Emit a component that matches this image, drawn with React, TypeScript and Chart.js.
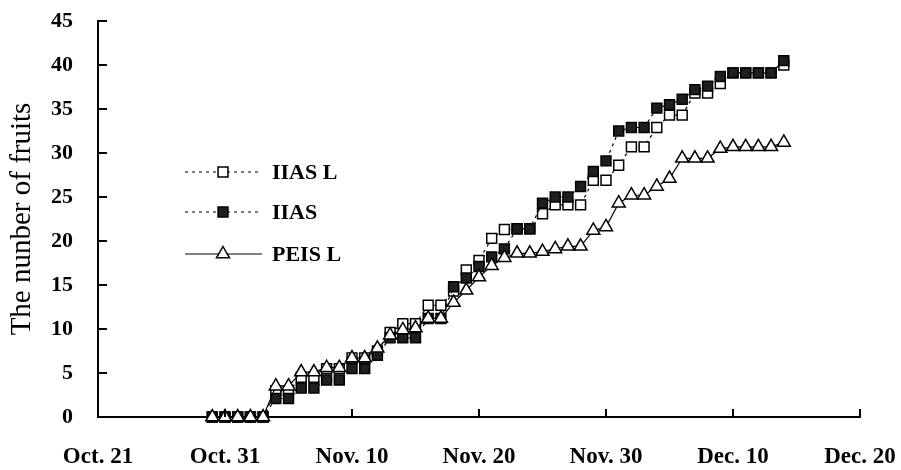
import React, { useEffect, useRef } from 'react';
import { Chart, registerables } from 'chart.js';

Chart.register(...registerables);

// Tick labels for the date axis (every 10 days starting Oct. 21)
const tickLabels = ['Oct. 21', 'Oct. 31', 'Nov. 10', 'Nov. 20', 'Nov. 30', 'Dec. 10', 'Dec. 20'];

// Days since Oct. 21 for each observation
const days = [
  9, 10, 11, 12, 13, 14, 15, 16, 17, 18, 19, 20, 21, 22, 23, 24, 25, 26, 27, 28, 29, 30, 31,
  32, 33, 34, 35, 36, 37, 38, 39, 40, 41, 42, 43, 44, 45, 46, 47, 48, 49, 50, 51, 52, 53, 54,
];

const iiasL = [
  0, 0, 0, 0, 0, 3.0, 3.0, 4.5, 4.5, 5.5, 5.5, 6.7, 6.7, 7.5, 9.6, 10.6, 10.6, 12.7, 12.7, 14.3,
  16.7, 17.8, 20.3, 21.3, 21.4, 21.4, 23.1, 24.1, 24.1, 24.1, 26.9, 26.9, 28.6, 30.7, 30.7, 32.9,
  34.3, 34.3, 36.8, 36.8, 37.9, 39.1, 39.1, 39.1, 39.1, 40.0,
];

const iias = [
  0, 0, 0, 0, 0, 2.1, 2.1, 3.3, 3.3, 4.2, 4.2, 5.5, 5.5, 7.0, 9.0, 9.0, 9.0, 11.2, 11.2, 14.8,
  15.8, 17.1, 18.2, 19.1, 21.4, 21.4, 24.3, 25.0, 25.0, 26.2, 27.9, 29.1, 32.5, 32.9, 32.9, 35.1,
  35.5, 36.1, 37.2, 37.6, 38.7, 39.1, 39.1, 39.1, 39.1, 40.5,
];

const peisL = [
  0, 0, 0, 0, 0, 3.5, 3.5, 5.1, 5.1, 5.6, 5.6, 6.7, 6.7, 7.8, 9.3, 9.9, 10.1, 11.2, 11.2, 13.0,
  14.4, 15.9, 17.2, 18.1, 18.6, 18.6, 18.8, 19.1, 19.4, 19.4, 21.2, 21.6, 24.3, 25.2, 25.2, 26.2,
  27.1, 29.4, 29.4, 29.4, 30.5, 30.7, 30.7, 30.7, 30.7, 31.2,
];

const seriesNames = ['IIAS L', 'IIAS', 'PEIS L'];

const FONT = "'Liberation Serif', 'Times New Roman', serif";

function toPoints(values: number[]) {
  return values.map((v, i) => ({ x: days[i], y: v }));
}

const innerTicks = {
  id: 'innerTicks',
  afterDraw(chart: any) {
    const ctx = chart.ctx;
    const { left, bottom } = chart.chartArea;
    const xs = chart.scales.x;
    const ys = chart.scales.y;
    ctx.save();
    ctx.strokeStyle = '#000';
    ctx.lineWidth = 2;
    ctx.beginPath();
    xs.ticks.forEach((t: any) => {
      if (t.value === xs.min) return;
      const px = Math.round(xs.getPixelForValue(t.value));
      ctx.moveTo(px, bottom);
      ctx.lineTo(px, bottom - 8);
    });
    ys.ticks.forEach((t: any) => {
      if (t.value === ys.min) return;
      const py = Math.round(ys.getPixelForValue(t.value));
      ctx.moveTo(left, py);
      ctx.lineTo(left + 9, py);
    });
    ctx.stroke();
    ctx.restore();
  },
};

const customLegend = {
  id: 'customLegend',
  afterDraw(chart: any) {
    const ctx = chart.ctx;
    const rows = [
      { ds: 2, y: 172 },
      { ds: 1, y: 212 },
      { ds: 0, y: 254 },
    ];
    ctx.save();
    rows.forEach((r) => {
      const ds = chart.data.datasets[r.ds];
      ctx.strokeStyle = '#000';
      ctx.lineWidth = 1.2;
      ctx.setLineDash(ds.borderDash || []);
      ctx.beginPath();
      ctx.moveTo(185, r.y);
      ctx.lineTo(262, r.y);
      ctx.stroke();
      ctx.setLineDash([]);
      ctx.fillStyle = ds.pointBackgroundColor;
      ctx.lineWidth = 1.5;
      ctx.beginPath();
      if (ds.pointStyle === 'triangle') {
        const rad = ds.pointRadius;
        const cx = 223;
        const cy = r.y;
        ctx.moveTo(cx, cy - rad);
        ctx.lineTo(cx + rad * 0.866, cy + rad * 0.5);
        ctx.lineTo(cx - rad * 0.866, cy + rad * 0.5);
        ctx.closePath();
      } else {
        const s = ds.pointRadius * Math.SQRT1_2;
        ctx.rect(223 - s, r.y - s, 2 * s, 2 * s);
      }
      ctx.fill();
      ctx.stroke();
      ctx.fillStyle = '#000';
      ctx.font = `bold 22px ${FONT}`;
      ctx.textBaseline = 'middle';
      ctx.textAlign = 'left';
      ctx.fillText(ds.label, 272, r.y + 1);
    });
    ctx.restore();
  },
};

export default function App() {
  const ref = useRef<HTMLCanvasElement | null>(null);

  useEffect(() => {
    document.body.style.margin = '0';
    const canvas = ref.current;
    if (!canvas) return;
    const chart = new Chart(canvas, {
      type: 'line',
      data: {
        datasets: [
          {
            label: seriesNames[2],
            data: toPoints(peisL),
            borderColor: '#000',
            borderWidth: 1.2,
            pointStyle: 'triangle',
            pointRadius: 7.5,
            pointBackgroundColor: '#fff',
            pointBorderColor: '#000',
            pointBorderWidth: 1.5,
            tension: 0,
            clip: false,
          } as any,
          {
            label: seriesNames[1],
            data: toPoints(iias),
            borderColor: '#000',
            borderWidth: 1.2,
            borderDash: [3, 4],
            pointStyle: 'rect',
            pointRadius: 7,
            pointBackgroundColor: '#1e1e1e',
            pointBorderColor: '#000',
            pointBorderWidth: 1.5,
            tension: 0,
            clip: false,
          } as any,
          {
            label: seriesNames[0],
            data: toPoints(iiasL),
            borderColor: '#000',
            borderWidth: 1.2,
            borderDash: [3, 4],
            pointStyle: 'rect',
            pointRadius: 7,
            pointBackgroundColor: '#fff',
            pointBorderColor: '#000',
            pointBorderWidth: 1.5,
            tension: 0,
            clip: false,
          } as any,
        ],
      },
      options: {
        animation: false,
        responsive: false,
        devicePixelRatio: 1,
        layout: { padding: { top: 21, right: 41, left: 0, bottom: 0 } },
        plugins: {
          legend: { display: false },
          tooltip: { enabled: false },
        },
        scales: {
          x: {
            type: 'linear',
            min: 0,
            max: 60,
            grid: { display: false, drawTicks: false },
            border: { display: true, color: '#000', width: 2 },
            ticks: {
              stepSize: 10,
              padding: 26,
              color: '#000',
              font: { family: FONT, size: 23, weight: 'bold' },
              maxRotation: 0,
              callback: (v: any) => tickLabels[Math.round(Number(v) / 10)] ?? '',
            },
            afterFit: (scale: any) => {
              scale.height = 53;
              scale.paddingLeft = 0;
              scale.paddingRight = 0;
            },
          },
          y: {
            min: 0,
            max: 45,
            grid: { display: false, drawTicks: false },
            border: { display: true, color: '#000', width: 2 },
            ticks: {
              stepSize: 5,
              padding: 25,
              color: '#000',
              font: { family: FONT, size: 22, weight: 'bold' },
            },
            title: {
              display: true,
              text: 'The nunber of fruits',
              color: '#000',
              font: { family: FONT, size: 29, weight: 'normal' },
              padding: { top: 5, bottom: 0 },
            },
            afterFit: (scale: any) => {
              scale.width = 98;
              scale.paddingTop = 0;
              scale.paddingBottom = 0;
            },
          },
        },
      } as any,
      plugins: [innerTicks, customLegend],
    });
    return () => chart.destroy();
  }, []);

  return (
    <div style={{ width: 901, height: 470, background: '#fff' }}>
      <canvas ref={ref} width={901} height={470} />
    </div>
  );
}
